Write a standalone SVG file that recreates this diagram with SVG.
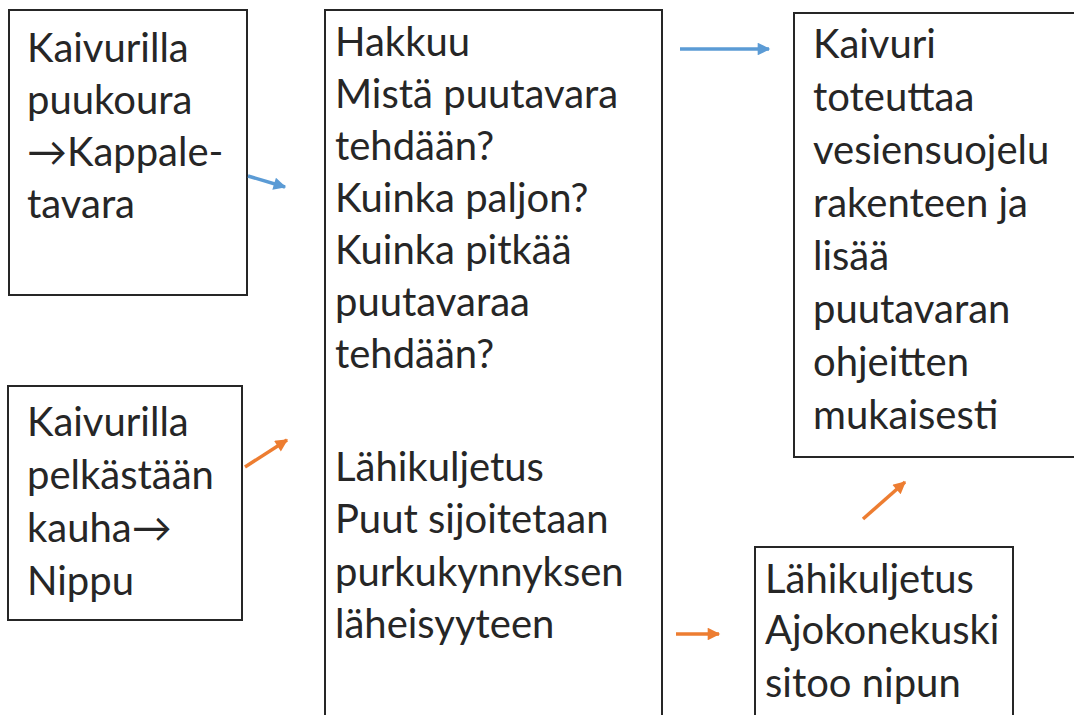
<svg xmlns="http://www.w3.org/2000/svg" width="1074" height="715" viewBox="0 0 1074 715">
<style>
.box{fill:#fff;stroke:#262626;stroke-width:2}
.t{font-family:Lato,"Open Sans","Liberation Sans",sans-serif;font-size:40px;fill:#262626}
.blue{stroke:#5B9BD5;stroke-width:3.5;fill:none}
.orange{stroke:#ED7D31;stroke-width:3.5;fill:none}
</style>
<defs>
<marker id="ab" viewBox="0 0 10 10" refX="9" refY="5" markerWidth="4" markerHeight="3.6" orient="auto" markerUnits="strokeWidth"><path d="M0,0 L10,5 L0,10 z" fill="#5B9BD5"/></marker>
<marker id="ao" viewBox="0 0 10 10" refX="9" refY="5" markerWidth="4" markerHeight="3.6" orient="auto" markerUnits="strokeWidth"><path d="M0,0 L10,5 L0,10 z" fill="#ED7D31"/></marker>
</defs>
<rect width="1074" height="715" fill="#fff"/>
<g id="n1">
<rect class="box" x="9" y="10" width="238" height="285"/>
<text class="t" x="27" y="62">Kaivurilla</text>
<text class="t" x="27" y="114">puukoura</text>
<text class="t" x="27" y="166">→Kappale-</text>
<text class="t" x="27" y="218">tavara</text>
</g>
<g id="n2">
<rect class="box" x="8" y="386" width="234" height="234"/>
<text class="t" x="27" y="436">Kaivurilla</text>
<text class="t" x="27" y="489">pelkästään</text>
<text class="t" x="27" y="542">kauha→</text>
<text class="t" x="27" y="595">Nippu</text>
</g>
<g id="n3">
<rect class="box" x="325" y="10" width="337" height="720"/>
<text class="t" x="335" y="56">Hakkuu</text>
<text class="t" x="335" y="108">Mistä puutavara</text>
<text class="t" x="335" y="160">tehdään?</text>
<text class="t" x="335" y="212">Kuinka paljon?</text>
<text class="t" x="335" y="264">Kuinka pitkää</text>
<text class="t" x="335" y="316">puutavaraa</text>
<text class="t" x="335" y="368">tehdään?</text>
<text class="t" x="335" y="481">Lähikuljetus</text>
<text class="t" x="335" y="533">Puut sijoitetaan</text>
<text class="t" x="335" y="586">purkukynnyksen</text>
<text class="t" x="335" y="638">läheisyyteen</text>
</g>
<g id="n4">
<rect class="box" x="794" y="13" width="290" height="444"/>
<text class="t" x="813" y="58">Kaivuri</text>
<text class="t" x="813" y="111">toteuttaa</text>
<text class="t" x="813" y="164">vesiensuojelu</text>
<text class="t" x="813" y="217">rakenteen ja</text>
<text class="t" x="813" y="270">lisää</text>
<text class="t" x="813" y="323">puutavaran</text>
<text class="t" x="813" y="376">ohjeitten</text>
<text class="t" x="813" y="429">mukaisesti</text>
</g>
<g id="n5">
<rect class="box" x="755" y="547" width="258" height="190"/>
<text class="t" x="765" y="593">Lähikuljetus</text>
<text class="t" x="765" y="644">Ajokonekuski</text>
<text class="t" x="765" y="697">sitoo nipun</text>
</g>
<g id="connectors">
<line class="blue" x1="248" y1="176" x2="285" y2="187" marker-end="url(#ab)"/>
<line class="blue" x1="680" y1="49" x2="769" y2="49" marker-end="url(#ab)"/>
<line class="orange" x1="245" y1="467" x2="287" y2="440" marker-end="url(#ao)"/>
<line class="orange" x1="863" y1="519" x2="905" y2="482" marker-end="url(#ao)"/>
<line class="orange" x1="676" y1="634" x2="719" y2="634" marker-end="url(#ao)"/>
</g>
</svg>
